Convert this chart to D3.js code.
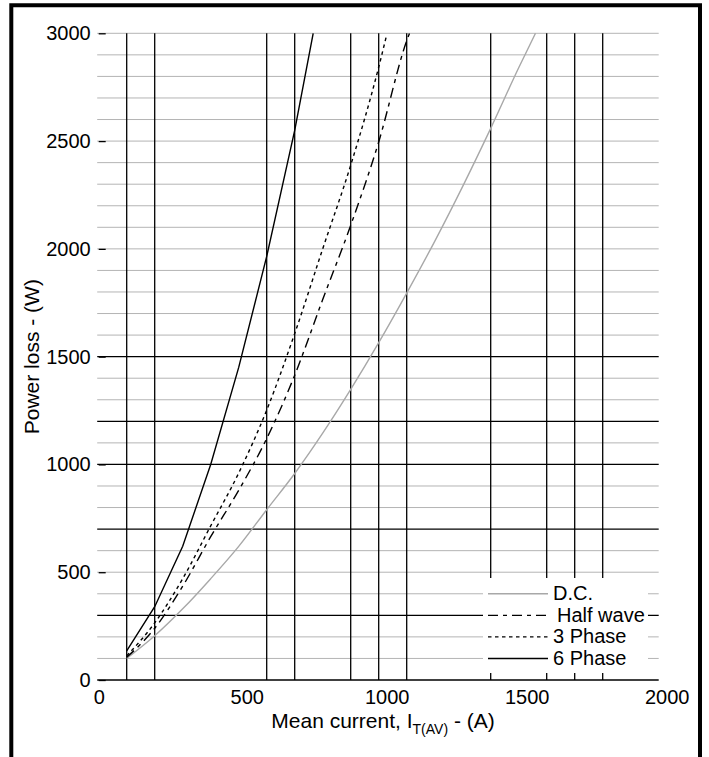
<!DOCTYPE html>
<html>
<head>
<meta charset="utf-8">
<script src="https://cdn.jsdelivr.net/npm/d3@7/dist/d3.min.js"></script>
<style>
  body { margin: 0; background: #fff; }
  svg { display: block; font-family: Arial, "Liberation Sans", sans-serif; }
  .grid-minor { stroke: #b4b4b4; stroke-width: 1; }
  .grid-major { stroke: #000; stroke-width: 1.3; }
  .curve { fill: none; stroke-width: 1.4; }
  .tick-label { font-size: 20px; fill: #000; }
  .axis-title { font-size: 21px; fill: #000; }
  .legend-label { font-size: 20px; fill: #000; }
</style>
</head>
<body>
<div id="wrapper"></div>
<script>

// values
const seriesNames = ['D.C.', 'Half wave', '3 Phase', '6 Phase'];

const dcCurrent = [100, 200, 300, 400, 500, 600, 700, 800, 900, 1000, 1100, 1200, 1300, 1400, 1500, 1560];
const dcLoss = [100, 205, 330, 470, 620, 790, 958, 1145, 1348, 1565, 1795, 2035, 2290, 2559, 2840, 3000];

const halfWaveCurrent = [100, 200, 300, 400, 500, 600, 700, 800, 900, 1000, 1100, 1110];
const halfWaveLoss = [105, 240, 435, 665, 880, 1120, 1414, 1765, 2109, 2496, 2965, 3000];

const threePhaseCurrent = [100, 200, 300, 400, 500, 600, 700, 800, 900, 1000, 1028];
const threePhaseLoss = [112, 265, 470, 715, 960, 1252, 1607, 2000, 2388, 2843, 2990];

const sixPhaseCurrent = [100, 200, 300, 400, 500, 600, 700, 766];
const sixPhaseLoss = [135, 340, 620, 1000, 1450, 1965, 2550, 3000];

const currentTicks = [0, 500, 1000, 1500, 2000];
const lossTicks = [0, 500, 1000, 1500, 2000, 2500, 3000];

// the datasheet's heavy grid lines
const heavyCurrentLines = [100, 200, 600, 700, 900, 1000, 1100, 1400, 1600, 1700, 1800];
const heavyLossLines = [0, 300, 700, 1000, 1200, 1500];
const lightLossLines = [100, 200, 400, 500, 600, 800, 900, 1100, 1300, 1400, 1600, 1700,
  1800, 1900, 2000, 2100, 2200, 2300, 2400, 2500, 2600, 2700, 2800, 2900, 3000];

function drawChart() {

  // 1. Access data

  const currentAccessor = d => d.current;
  const lossAccessor = d => d.loss;
  const zipSeries = (currents, losses) => currents.map((current, i) => ({ current, loss: losses[i] }));

  const series = [
    { name: seriesNames[0], values: zipSeries(dcCurrent, dcLoss), color: '#a8a8a8', dash: null, smooth: true },
    { name: seriesNames[1], values: zipSeries(halfWaveCurrent, halfWaveLoss), color: '#000', dash: '10,5,4,5', smooth: true },
    { name: seriesNames[2], values: zipSeries(threePhaseCurrent, threePhaseLoss), color: '#000', dash: '3.5,3.5', smooth: true },
    { name: seriesNames[3], values: zipSeries(sixPhaseCurrent, sixPhaseLoss), color: '#000', dash: null, smooth: false },
  ];

  // 2. Create chart dimensions

  let dimensions = {
    width: 709,
    height: 757,
    margin: {
      top: 33.3,
      right: 50.3,
      bottom: 77,
      left: 98.7,
    },
    legend: { x: 483, y: 578, width: 165, height: 95, sampleX: 488, sampleWidth: 60, textX: 553 },
  }
  dimensions.boundedWidth = dimensions.width - dimensions.margin.left - dimensions.margin.right
  dimensions.boundedHeight = dimensions.height - dimensions.margin.top - dimensions.margin.bottom

  // 3. Draw canvas

  const wrapper = d3.select('#wrapper')
    .append('svg')
      .attr('width', dimensions.width)
      .attr('height', dimensions.height)

  wrapper.append('rect')
      .attr('width', dimensions.width)
      .attr('height', dimensions.height)
      .attr('fill', '#fff')

  // page frame, open at the bottom
  wrapper.append('path')
      .attr('d', `M11.3,${dimensions.height + 5} V5.3 H700 V${dimensions.height + 5}`)
      .attr('fill', 'none')
      .attr('stroke', '#000')
      .attr('stroke-width', 4)

  const bounds = wrapper.append('g')
      .attr('transform', `translate(${dimensions.margin.left}, ${dimensions.margin.top})`)

  // 4. Create scales

  const xScale = d3.scaleLinear()
    .domain([0, 2000])
    .range([0, dimensions.boundedWidth])

  const yScale = d3.scaleLinear()
    .domain([0, 3000])
    .range([dimensions.boundedHeight, 0])

  // 5. Draw grid

  const gridGroup = bounds.append('g')

  gridGroup.selectAll('.grid-minor')
    .data(lightLossLines)
    .join('line')
      .attr('class', 'grid-minor')
      .attr('x1', -1.5)
      .attr('x2', dimensions.boundedWidth)
      .attr('y1', yScale)
      .attr('y2', yScale)

  gridGroup.selectAll('.grid-major-h')
    .data(heavyLossLines)
    .join('line')
      .attr('class', 'grid-major grid-major-h')
      .attr('x1', -1.5)
      .attr('x2', dimensions.boundedWidth)
      .attr('y1', yScale)
      .attr('y2', yScale)

  gridGroup.selectAll('.grid-major-v')
    .data(heavyCurrentLines)
    .join('line')
      .attr('class', 'grid-major grid-major-v')
      .attr('x1', xScale)
      .attr('x2', xScale)
      .attr('y1', 0)
      .attr('y2', dimensions.boundedHeight)

  // 6. Draw peripherals

  const yAxisGenerator = d3.axisLeft(yScale)
    .tickValues(lossTicks)
    .tickFormat(d3.format('d'))
    .tickSize(-7)
    .tickPadding(8)

  const yAxis = bounds.append('g')
    .call(yAxisGenerator)
    .attr('font-size', null)
    .attr('font-family', null)
  yAxis.select('.domain').remove()
  yAxis.selectAll('line').attr('stroke', '#000').attr('stroke-width', 1.3)
  yAxis.selectAll('text').attr('class', 'tick-label')

  const xAxisGenerator = d3.axisBottom(xScale)
    .tickValues(currentTicks)
    .tickFormat(d3.format('d'))
    .tickSize(0)
    .tickPadding(10)

  const xAxis = bounds.append('g')
    .attr('transform', `translate(0, ${dimensions.boundedHeight})`)
    .call(xAxisGenerator)
    .attr('font-size', null)
    .attr('font-family', null)
  xAxis.select('.domain').remove()
  xAxis.selectAll('text')
    .attr('class', 'tick-label')
    .attr('dx', d => d === 0 ? 0 : 8)

  const xTitle = wrapper.append('text')
    .attr('class', 'axis-title')
    .attr('x', 383)
    .attr('y', 728)
    .attr('text-anchor', 'middle')
  xTitle.append('tspan').text('Mean current, I')
  xTitle.append('tspan').attr('font-size', 14).attr('dy', 6).text('T(AV)')
  xTitle.append('tspan').attr('dy', -6).text(' - (A)')

  wrapper.append('text')
    .attr('class', 'axis-title')
    .attr('transform', `translate(33, ${dimensions.margin.top + dimensions.boundedHeight / 2}) rotate(-90)`)
    .attr('text-anchor', 'middle')
    .attr('dominant-baseline', 'middle')
    .text('Power loss - (W)')

  // 7. Draw data

  const lineGenerator = smooth => d3.line()
    .x(d => xScale(currentAccessor(d)))
    .y(d => yScale(lossAccessor(d)))
    .curve(smooth ? d3.curveMonotoneX : d3.curveLinear)

  bounds.append('g')
    .selectAll('.curve')
    .data(series)
    .join('path')
      .attr('class', 'curve')
      .attr('d', d => lineGenerator(d.smooth)(d.values))
      .attr('stroke', d => d.color)
      .attr('stroke-dasharray', d => d.dash)

  // 8. Legend, rows sit on the 400..100 W grid lines

  const legend = dimensions.legend
  const legendGroup = wrapper.append('g')

  legendGroup.append('rect')
    .attr('x', legend.x)
    .attr('y', legend.y)
    .attr('width', legend.width)
    .attr('height', legend.height)
    .attr('fill', '#fff')

  const rowY = i => dimensions.margin.top + yScale(400 - 100 * i)

  legendGroup.selectAll('.legend-sample')
    .data(series)
    .join('line')
      .attr('class', 'legend-sample')
      .attr('x1', legend.sampleX)
      .attr('x2', legend.sampleX + legend.sampleWidth)
      .attr('y1', (d, i) => rowY(i))
      .attr('y2', (d, i) => rowY(i))
      .attr('stroke', d => d.color)
      .attr('stroke-width', 1.4)
      .attr('stroke-dasharray', d => d.dash)

  legendGroup.selectAll('.legend-label')
    .data(series)
    .join('text')
      .attr('class', 'legend-label')
      .attr('x', (d, i) => legend.textX + (i === 1 ? 4 : 0))
      .attr('y', (d, i) => rowY(i) + 6.5)
      .text(d => d.name)
}
drawChart()
</script>
</body>
</html>
